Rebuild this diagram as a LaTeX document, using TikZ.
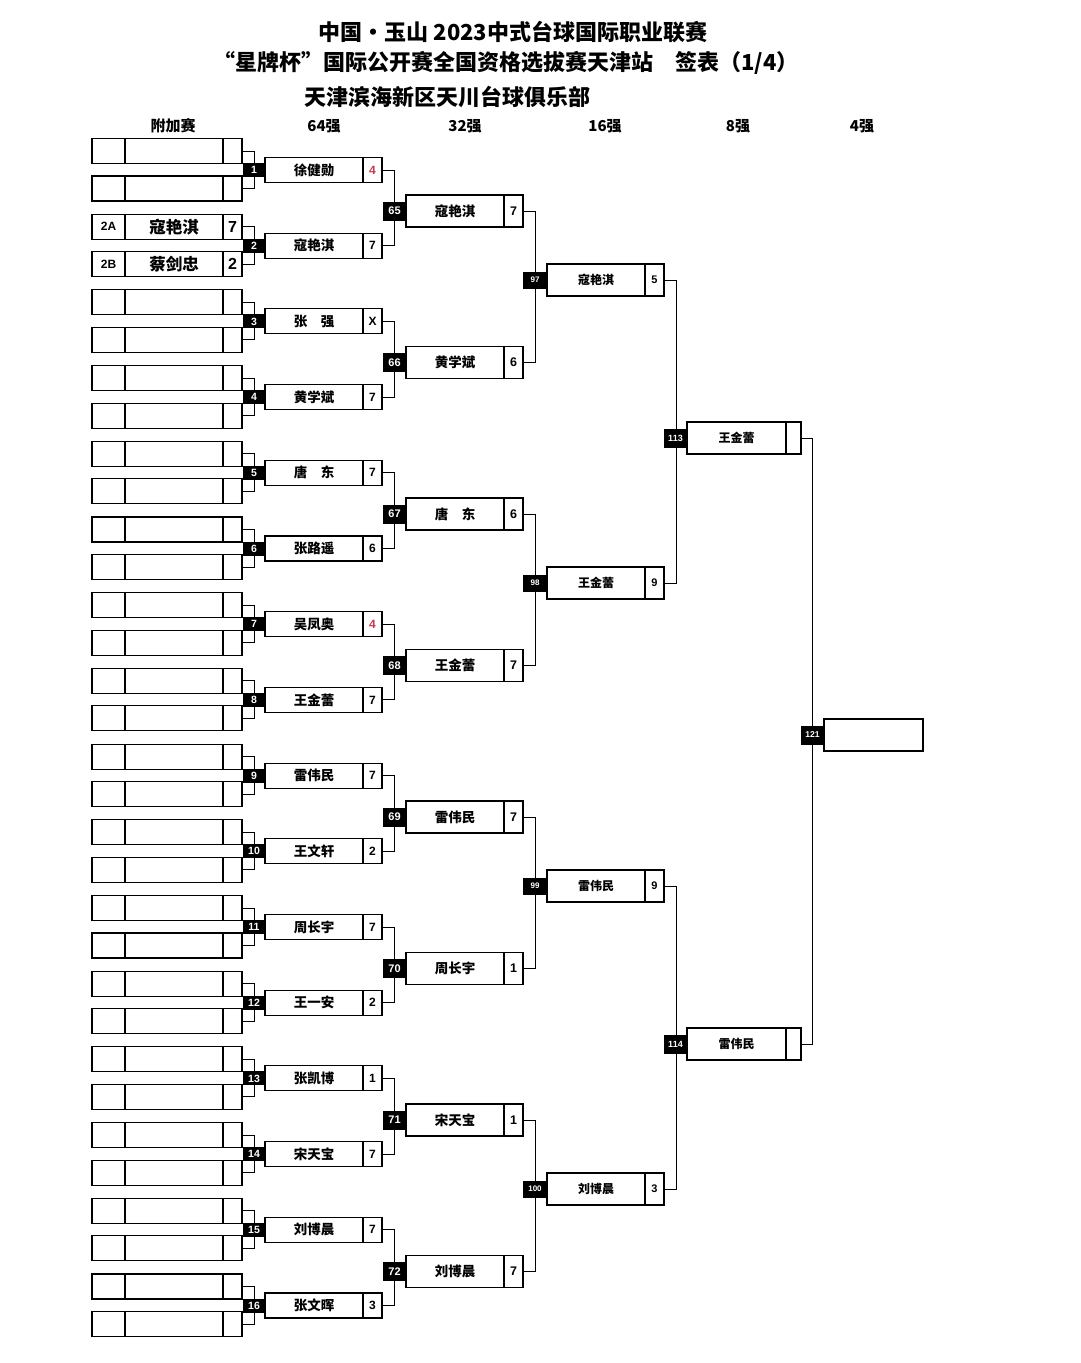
\documentclass[tikz,border=0pt]{standalone}
\usepackage{fontspec}
\setmainfont{Liberation Sans}
\newfontfamily\cjk{Noto Sans CJK SC}
\usetikzlibrary{positioning}
\pgfdeclarelayer{back}
\pgfsetlayers{back,main}
\definecolor{lossred}{RGB}{190,60,80}

\tikzset{
  box/.style={draw, line width=1.1pt, fill=white, inner sep=0pt, outer sep=0pt},
  numbox/.style={fill=black, text=white, inner sep=0pt, outer sep=0pt},
  link/.style={line width=0.9pt},
  % bracket boxes of each round
  numR64/.style={numbox, minimum width=22pt, minimum height=14pt, font=\fontsize{10.5}{12}\selectfont\bfseries},
  nameR64/.style={box, minimum width=98pt, minimum height=25pt, font=\cjk\bfseries\fontsize{13.5}{15}\selectfont},
  scoreR64/.style={box, minimum width=19pt, minimum height=25pt, font=\fontsize{12}{14}\selectfont\bfseries},
  numR32/.style={numbox, minimum width=23pt, minimum height=19pt, font=\fontsize{11}{12}\selectfont\bfseries},
  nameR32/.style={box, minimum width=98pt, minimum height=32pt, font=\cjk\bfseries\fontsize{13.5}{15}\selectfont},
  scoreR32/.style={box, minimum width=19pt, minimum height=32pt, font=\fontsize{12.5}{14}\selectfont\bfseries},
  numR16/.style={numbox, minimum width=24pt, minimum height=17pt, font=\fontsize{8}{9}\selectfont\bfseries},
  nameR16/.style={box, minimum width=98pt, minimum height=32pt, font=\cjk\bfseries\fontsize{12}{14}\selectfont},
  scoreR16/.style={box, minimum width=19pt, minimum height=32pt, font=\fontsize{11}{13}\selectfont\bfseries},
  numR8/.style={numbox, minimum width=23pt, minimum height=19pt, font=\fontsize{9}{10}\selectfont\bfseries},
  nameR8/.style={box, minimum width=99pt, minimum height=32pt, font=\cjk\bfseries\fontsize{12}{14}\selectfont},
  scoreR8/.style={box, minimum width=15pt, minimum height=32pt},
  % extra round
  extlab/.style={box, minimum width=33pt, minimum height=25pt, font=\fontsize{12}{14}\selectfont\bfseries},
  extname/.style={box, minimum width=98pt, minimum height=25pt, font=\cjk\bfseries\fontsize{16.5}{18}\selectfont},
  extscore/.style={box, minimum width=19pt, minimum height=25pt, font=\fontsize{16}{18}\selectfont\bfseries},
  head/.style={font=\cjk\bfseries\fontsize{15}{17}\selectfont},
  title/.style={font=\cjk\bfseries\fontsize{22}{26}\selectfont}
}

% one match: round, number, x, y, player, score
\newcommand{\matchslot}[6]{%
  \node[num#1] (n#2) at (#3,#4) {#2};
  \node[name#1, right=0pt of n#2] (p#2) {#5};
  \node[score#1, right=0pt of p#2] (s#2) {#6};
}
% one extra-round line: id, y, label, player, score
\newcommand{\extraslot}[5]{%
  \node[extlab] (e#1) at (108.5,#2) {#3};
  \node[extname, right=0pt of e#1] (en#1) {#4};
  \node[extscore, right=0pt of en#1] (es#1) {#5};
}

\begin{document}
\begin{tikzpicture}[x=1pt, y=-1pt]
    \useasboundingbox (0,0) rectangle (1080,1363);

    % titles
    \node[title] (t1) at (513,32) {中国·玉山 2023中式台球国际职业联赛};
    \node[title] (t2) at (506,63) {“星牌杯”国际公开赛全国资格选拔赛天津站　签表（1/4）};
    \node[title] (t3) at (447,97) {天津滨海新区天川台球俱乐部};

    % column heads
    \node[head] (h0) at (173,126) {附加赛};
    \node[head] (h1) at (324,126) {64强};
    \node[head] (h2) at (465,126) {32强};
    \node[head] (h3) at (605,126) {16强};
    \node[head] (h4) at (738,126) {8强};
    \node[head] (h5) at (862,126) {4强};

    % extra round
    \foreach \i in {1,3,4,...,16} {
      \extraslot{\i a}{{151+(\i-1)*75.7}}{}{}{}
      \extraslot{\i b}{{188.5+(\i-1)*75.7}}{}{}{}
    }
    \extraslot{2a}{226.7}{2A}{寇艳淇}{7}
    \extraslot{2b}{264.2}{2B}{蔡剑忠}{2}

    % round of 64
    \foreach \i/\nm/\sc in {1/徐健勋/{\color{lossred}4}, 2/寇艳淇/7, 3/张　强/X, 4/黄学斌/7,
        5/唐　东/7, 6/张路遥/6, 7/吴凤奥/{\color{lossred}4}, 8/王金蕾/7,
        9/雷伟民/7, 10/王文轩/2, 11/周长宇/7, 12/王一安/2,
        13/张凯博/1, 14/宋天宝/7, 15/刘博晨/7, 16/张文晖/3} {
      \matchslot{R64}{\i}{254}{{170+(\i-1)*75.7}}{\nm}{\sc}
    }

    % round of 32
    \foreach \m/\nm/\sc [count=\j from 0] in {65/寇艳淇/7, 66/黄学斌/6, 67/唐　东/6, 68/王金蕾/7,
        69/雷伟民/7, 70/周长宇/1, 71/宋天宝/1, 72/刘博晨/7} {
      \matchslot{R32}{\m}{394.5}{{211+\j*151.5}}{\nm}{\sc}
    }

    % round of 16
    \foreach \m/\nm/\sc [count=\j from 0] in {97/寇艳淇/5, 98/王金蕾/9, 99/雷伟民/9, 100/刘博晨/3} {
      \matchslot{R16}{\m}{535}{{280+\j*303}}{\nm}{\sc}
    }

    % round of 8
    \matchslot{R8}{113}{675.5}{438}{王金蕾}{}
    \matchslot{R8}{114}{675.5}{1044}{雷伟民}{}

    % final four slot
    \node[numR8, font=\fontsize{8.5}{10}\selectfont\bfseries] (n121) at (812.5,735) {121};
    \node[box, minimum width=99pt, minimum height=32pt, right=0pt of n121] (p121) {};

    % brackets
    \begin{pgfonlayer}{back}
      \fill[white] (0,0) rectangle (1080,1363);
      \foreach \i in {1,...,16}
        \draw[link] (es\i a.east) -- ++(12,0) |- (es\i b.east);
      \foreach \a/\b in {1/2,3/4,5/6,7/8,9/10,11/12,13/14,15/16,65/66,67/68,69/70,71/72,97/98,99/100}
        \draw[link] (s\a.east) -- ++(12,0) |- (s\b.east);
      \draw[link] (s113.east) -- ++(11,0) |- (s114.east);
    \end{pgfonlayer}
\end{tikzpicture}
\end{document}
